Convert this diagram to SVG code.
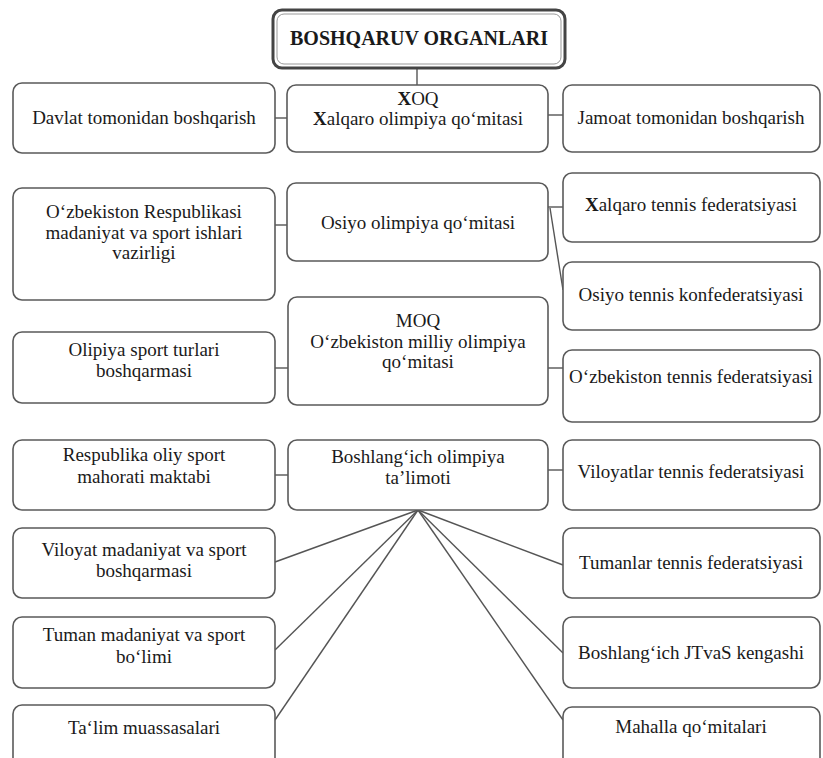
<svg xmlns="http://www.w3.org/2000/svg" width="823" height="758" viewBox="0 0 823 758">
<defs>
<style>
.box{fill:#fff;stroke:#5a5a5a;stroke-width:1.6}
.title{fill:#fff;stroke:#444;stroke-width:3}
.inner{fill:none;stroke:#999;stroke-width:1}
.t{font-family:'Liberation Serif','DejaVu Serif',serif;font-size:19px;fill:#1a1a1a;text-anchor:middle}
.b{font-weight:bold}
.c{stroke:#555;stroke-width:1.4;fill:none}
</style>
</defs>
<rect width="823" height="758" fill="#fff"/>
<g id="connectors">
<line class="c" x1="417" y1="69" x2="417" y2="85"/>
<line class="c" x1="275" y1="118" x2="287" y2="118"/>
<line class="c" x1="548" y1="115" x2="563" y2="115"/>
<line class="c" x1="275" y1="225" x2="287" y2="225"/>
<line class="c" x1="548" y1="207" x2="563" y2="207"/>
<line class="c" x1="550" y1="208" x2="563" y2="290"/>
<line class="c" x1="275" y1="368" x2="288" y2="368"/>
<line class="c" x1="548" y1="368" x2="563" y2="368"/>
<line class="c" x1="275" y1="475" x2="288" y2="475"/>
<line class="c" x1="548" y1="470" x2="563" y2="470"/>
<line class="c" x1="418" y1="510" x2="275" y2="562"/>
<line class="c" x1="418" y1="510" x2="275" y2="650"/>
<line class="c" x1="418" y1="510" x2="275" y2="720"/>
<line class="c" x1="418" y1="510" x2="563" y2="565"/>
<line class="c" x1="418" y1="510" x2="563" y2="653"/>
<line class="c" x1="418" y1="510" x2="563" y2="720"/>
</g>
<g font-family="'Liberation Serif', 'DejaVu Serif', serif">
<g id="n-title">
<rect class="title" x="273" y="10" width="292" height="58" rx="9"/>
<rect class="inner" x="277" y="14" width="284" height="50" rx="7"/>
<text class="t b" x="419" y="45" font-family="'Liberation Serif', serif" style="font-size:20px">BOSHQARUV ORGANLARI</text>
</g>
<g id="n-davlat">
<rect class="box" x="13" y="83" width="262" height="70" rx="9"/>
<text class="t" x="144" y="124">Davlat tomonidan boshqarish</text>
</g>
<g id="n-xoq">
<rect class="box" x="287" y="85" width="261" height="67" rx="9"/>
<text class="t" x="418" y="105"><tspan class="b">X</tspan>OQ</text>
<text class="t" x="418" y="125"><tspan class="b">X</tspan>alqaro olimpiya qoʻmitasi</text>
</g>
<g id="n-jamoat">
<rect class="box" x="563" y="85" width="257" height="67" rx="9"/>
<text class="t" x="691" y="124">Jamoat tomonidan boshqarish</text>
</g>
<g id="n-xtf">
<rect class="box" x="563" y="173" width="257" height="69" rx="9"/>
<text class="t" x="691" y="211"><tspan class="b">X</tspan>alqaro tennis federatsiyasi</text>
</g>
<g id="n-vazirlik">
<rect class="box" x="13" y="188" width="262" height="112" rx="9"/>
<text class="t" x="144" y="218">Oʻzbekiston Respublikasi</text>
<text class="t" x="144" y="239">madaniyat va sport ishlari</text>
<text class="t" x="144" y="259">vazirligi</text>
</g>
<g id="n-osiyo-oq">
<rect class="box" x="287" y="183" width="261" height="78" rx="9"/>
<text class="t" x="418" y="229">Osiyo olimpiya qoʻmitasi</text>
</g>
<g id="n-osiyo-tk">
<rect class="box" x="563" y="262" width="257" height="68" rx="9"/>
<text class="t" x="691" y="301">Osiyo tennis konfederatsiyasi</text>
</g>
<g id="n-olipiya">
<rect class="box" x="13" y="332" width="262" height="71" rx="9"/>
<text class="t" x="144" y="356">Olipiya sport turlari</text>
<text class="t" x="144" y="377">boshqarmasi</text>
</g>
<g id="n-moq">
<rect class="box" x="288" y="297" width="260" height="108" rx="9"/>
<text class="t" x="418" y="327">MOQ</text>
<text class="t" x="418" y="348">Oʻzbekiston milliy olimpiya</text>
<text class="t" x="418" y="368">qoʻmitasi</text>
</g>
<g id="n-otf">
<rect class="box" x="563" y="350" width="257" height="72" rx="9"/>
<text class="t" x="691" y="383">Oʻzbekiston tennis federatsiyasi</text>
</g>
<g id="n-respublika">
<rect class="box" x="13" y="440" width="262" height="70" rx="9"/>
<text class="t" x="144" y="461">Respublika oliy sport</text>
<text class="t" x="144" y="483">mahorati maktabi</text>
</g>
<g id="n-boshlangich">
<rect class="box" x="288" y="440" width="260" height="70" rx="9"/>
<text class="t" x="418" y="463">Boshlangʻich olimpiya</text>
<text class="t" x="418" y="484">ta’limoti</text>
</g>
<g id="n-vtf">
<rect class="box" x="563" y="440" width="257" height="70" rx="9"/>
<text class="t" x="691" y="478">Viloyatlar tennis federatsiyasi</text>
</g>
<g id="n-viloyat">
<rect class="box" x="13" y="528" width="262" height="70" rx="9"/>
<text class="t" x="144" y="556">Viloyat madaniyat va sport</text>
<text class="t" x="144" y="577">boshqarmasi</text>
</g>
<g id="n-ttf">
<rect class="box" x="563" y="528" width="257" height="70" rx="9"/>
<text class="t" x="691" y="569">Tumanlar tennis federatsiyasi</text>
</g>
<g id="n-tuman">
<rect class="box" x="13" y="617" width="262" height="71" rx="9"/>
<text class="t" x="144" y="641">Tuman madaniyat va sport</text>
<text class="t" x="144" y="663">boʻlimi</text>
</g>
<g id="n-jtvas">
<rect class="box" x="563" y="617" width="257" height="71" rx="9"/>
<text class="t" x="691" y="659">Boshlangʻich JTvaS kengashi</text>
</g>
<g id="n-talim">
<rect class="box" x="13" y="705" width="262" height="70" rx="9"/>
<text class="t" x="144" y="734">Taʻlim muassasalari</text>
</g>
<g id="n-mahalla">
<rect class="box" x="563" y="707" width="257" height="68" rx="9"/>
<text class="t" x="691" y="733">Mahalla qoʻmitalari</text>
</g>
</g>
</svg>
